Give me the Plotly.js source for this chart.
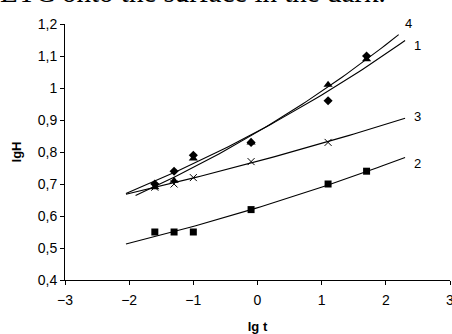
<!DOCTYPE html>
<html>
<head>
<meta charset="utf-8">
<script src="https://cdn.plot.ly/plotly-3.0.1.min.js"></script>
<style>html,body{margin:0;padding:0;background:#fff;overflow:hidden}#chart{width:452px;height:334px}</style>
</head>
<body>
<div id="chart"></div>
<script>
// Data
const lgT = [-1.6, -1.3, -1.0, -0.1, 1.1, 1.7];
const lgT3 = [-1.6, -1.3, -1.0, -0.1, 1.1];
const series1 = [0.70, 0.74, 0.79, 0.83, 0.96, 1.10]; // diamonds
const series2 = [0.55, 0.55, 0.55, 0.62, 0.70, 0.74]; // squares
const series3 = [0.69, 0.70, 0.72, 0.77, 0.83];       // crosses
const series4 = [0.69, 0.71, 0.78, 0.83, 1.01, 1.09]; // triangles
const curveLabels = ['1', '2', '3', '4'];
// trendline extents (lg t)
const trend1 = [-2.05, 2.3];
const trend2 = [-2.05, 2.3];
const trend3 = [-2.05, 2.3];
const trend4 = [-1.9, 2.2];
const xTicks = [-3, -2, -1, 0, 1, 2, 3];
const yTicks = [0.4, 0.5, 0.6, 0.7, 0.8, 0.9, 1.0, 1.1, 1.2];

// Exponential least-squares trendline (as in a spreadsheet "exponential" trendline)
function expFit(xs, ys, extent) {
  const n = xs.length;
  const lys = ys.map(Math.log);
  const mx = xs.reduce((a, b) => a + b, 0) / n;
  const my = lys.reduce((a, b) => a + b, 0) / n;
  let sxx = 0, sxy = 0;
  for (let i = 0; i < n; i++) { sxx += (xs[i] - mx) ** 2; sxy += (xs[i] - mx) * (lys[i] - my); }
  const b = sxy / sxx, a = my - b * mx;
  const tx = [], ty = [];
  const steps = 60;
  for (let k = 0; k <= steps; k++) {
    const x = extent[0] + (extent[1] - extent[0]) * k / steps;
    tx.push(x); ty.push(Math.exp(a + b * x));
  }
  return {x: tx, y: ty};
}

const lineStyle = {color: '#000', width: 1.1};
const t1 = expFit(lgT, series1, trend1);
const t2 = expFit(lgT, series2, trend2);
const t3 = expFit(lgT3, series3, trend3);
const t4 = expFit(lgT, series4, trend4);

const traces = [
  {x: t1.x, y: t1.y, mode: 'lines', line: lineStyle, hoverinfo: 'skip', showlegend: false, cliponaxis: false},
  {x: t2.x, y: t2.y, mode: 'lines', line: lineStyle, hoverinfo: 'skip', showlegend: false, cliponaxis: false},
  {x: t3.x, y: t3.y, mode: 'lines', line: lineStyle, hoverinfo: 'skip', showlegend: false, cliponaxis: false},
  {x: t4.x, y: t4.y, mode: 'lines', line: lineStyle, hoverinfo: 'skip', showlegend: false, cliponaxis: false},
  {x: lgT, y: series1, mode: 'markers', name: '1', marker: {symbol: 'diamond', size: 7, color: '#000'}, showlegend: false},
  {x: lgT, y: series2, mode: 'markers', name: '2', marker: {symbol: 'square', size: 7, color: '#000'}, showlegend: false},
  {x: lgT3, y: series3, mode: 'markers', name: '3', marker: {symbol: 'x-thin-open', size: 7, color: '#000', line: {color: '#000', width: 1}}, showlegend: false},
  {x: lgT, y: series4, mode: 'markers', name: '4', marker: {symbol: 'triangle-up', size: 8, color: '#000'}, showlegend: false}
];

const axisFont = {family: 'Liberation Sans, Arial, sans-serif', size: 14, color: '#000'};
const titleFont = {family: 'Liberation Sans, Arial, sans-serif', size: 13, color: '#000'};

// label positions in paper fractions
const labelPos = {
  '4': [0.9065, 1.039],
  '1': [0.9299, 0.952],
  '3': [0.9299, 0.637],
  '2': [0.9299, 0.457]
};
const annotations = curveLabels.map(l => ({
  x: labelPos[l][0], y: labelPos[l][1], xref: 'paper', yref: 'paper', text: l,
  showarrow: false, font: {family: 'Liberation Sans, Arial, sans-serif', size: 13, color: '#000'}
}));
annotations.push({
  xref: 'paper', yref: 'paper', x: -0.175, y: 1.056, xanchor: 'left', yanchor: 'bottom',
  text: 'ETC onto the surface in the dark.', showarrow: false,
  font: {family: 'Liberation Serif, Times New Roman, serif', size: 29, color: '#000'}
});

const layout = {
  width: 452, height: 334,
  margin: {l: 65, r: 2, t: 24, b: 54},
  paper_bgcolor: '#fff', plot_bgcolor: '#fff',
  separators: ', ',
  showlegend: false,
  xaxis: {
    range: [-3, 3], tickvals: xTicks, showgrid: false, zeroline: false,
    showline: true, linecolor: '#000', linewidth: 1,
    ticks: 'outside', ticklen: 4, tickcolor: '#000', tickwidth: 1,
    tickfont: axisFont, ticklabeloverflow: 'allow', ticklabelstandoff: 3,
    title: {text: '<b>lg t</b>', font: titleFont, standoff: 17}
  },
  yaxis: {
    range: [0.4, 1.2], tickvals: yTicks, showgrid: false, zeroline: false,
    showline: true, linecolor: '#000', linewidth: 1,
    ticks: 'outside', ticklen: 4, tickcolor: '#000', tickwidth: 1,
    tickfont: axisFont,
    title: {text: '<b>lgH</b>', font: titleFont, standoff: 13}
  },
  annotations: annotations
};

Plotly.newPlot('chart', traces, layout, {staticPlot: true, displayModeBar: false});
</script>
</body>
</html>
